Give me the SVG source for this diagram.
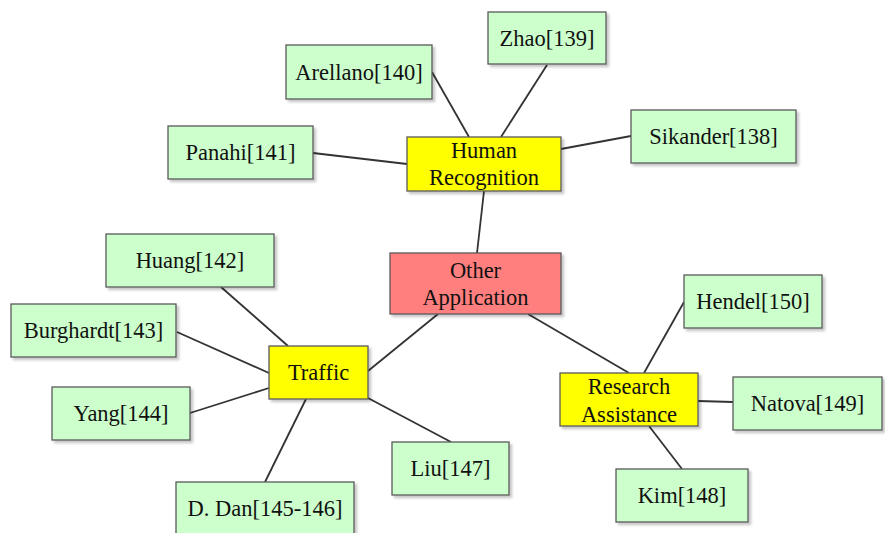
<svg xmlns="http://www.w3.org/2000/svg" width="885" height="533" viewBox="0 0 885 533">
  <style>
    .box { stroke: #5a5a5a; stroke-width: 1.3; filter: url(#shadow); }
    .leaf { fill: #ccffcc; }
    .topic { fill: #ffff00; }
    .root { fill: #ff7f7f; }
    .label { font-family: "Liberation Serif", "Times New Roman", serif; font-size: 22.5px; fill: #111; text-anchor: middle; }
    .edge { stroke: #333; stroke-width: 1.8; fill: none; }
  </style>
  <defs>
    <filter id="shadow" x="-10%" y="-10%" width="125%" height="130%">
      <feDropShadow dx="2.5" dy="2.5" stdDeviation="1.2" flood-color="#000" flood-opacity="0.22"/>
    </filter>
  </defs>
  <rect width="885" height="533" fill="#fff"/>

  <!-- connectors -->
  <g id="connectors">
    <line class="edge" x1="432" y1="72" x2="469" y2="137"/>
    <line class="edge" x1="547" y1="65" x2="501" y2="137"/>
    <line class="edge" x1="313" y1="153" x2="407" y2="164"/>
    <line class="edge" x1="561" y1="149" x2="631" y2="136"/>
    <line class="edge" x1="484" y1="191" x2="477" y2="253"/>
    <line class="edge" x1="438" y1="314" x2="368" y2="371"/>
    <line class="edge" x1="528" y1="314" x2="629" y2="373"/>
    <line class="edge" x1="221" y1="287" x2="288" y2="346"/>
    <line class="edge" x1="177" y1="332" x2="269" y2="373"/>
    <line class="edge" x1="190" y1="413" x2="269" y2="388"/>
    <line class="edge" x1="306" y1="399" x2="265" y2="482"/>
    <line class="edge" x1="368" y1="398" x2="451" y2="442"/>
    <line class="edge" x1="684" y1="302" x2="644" y2="373"/>
    <line class="edge" x1="698" y1="401" x2="733" y2="402"/>
    <line class="edge" x1="649" y1="426" x2="682" y2="469"/>
  </g>

  <!-- central node -->
  <g id="other-application">
    <rect class="box root" x="390" y="253" width="171" height="61"/>
    <text class="label" x="475.5" y="277.5">Other</text>
    <text class="label" x="475.5" y="305">Application</text>
  </g>

  <!-- topic nodes -->
  <g id="human-recognition">
    <rect class="box topic" x="407" y="137" width="154" height="54"/>
    <text class="label" x="484" y="158">Human</text>
    <text class="label" x="484" y="185">Recognition</text>
  </g>
  <g id="traffic">
    <rect class="box topic" x="269" y="346" width="99" height="53"/>
    <text class="label" x="318.5" y="380">Traffic</text>
  </g>
  <g id="research-assistance">
    <rect class="box topic" x="560" y="373" width="138" height="53"/>
    <text class="label" x="629" y="393.5">Research</text>
    <text class="label" x="629" y="421.5">Assistance</text>
  </g>

  <!-- reference nodes -->
  <g id="zhao">
    <rect class="box leaf" x="488" y="12" width="118" height="52"/>
    <text class="label" x="547" y="46">Zhao[139]</text>
  </g>
  <g id="arellano">
    <rect class="box leaf" x="286" y="45" width="146" height="54"/>
    <text class="label" x="359" y="80">Arellano[140]</text>
  </g>
  <g id="panahi">
    <rect class="box leaf" x="168" y="126" width="145" height="53"/>
    <text class="label" x="240.5" y="160">Panahi[141]</text>
  </g>
  <g id="sikander">
    <rect class="box leaf" x="631" y="110" width="165" height="53"/>
    <text class="label" x="713.5" y="144">Sikander[138]</text>
  </g>
  <g id="huang">
    <rect class="box leaf" x="106" y="234" width="168" height="53"/>
    <text class="label" x="190" y="268">Huang[142]</text>
  </g>
  <g id="burghardt">
    <rect class="box leaf" x="11" y="304" width="165" height="53"/>
    <text class="label" x="93.5" y="338">Burghardt[143]</text>
  </g>
  <g id="yang">
    <rect class="box leaf" x="52" y="387" width="138" height="53"/>
    <text class="label" x="121" y="421">Yang[144]</text>
  </g>
  <g id="d-dan">
    <rect class="box leaf" x="176" y="482" width="178" height="55"/>
    <text class="label" x="265" y="516">D. Dan[145-146]</text>
  </g>
  <g id="liu">
    <rect class="box leaf" x="392" y="442" width="117" height="53"/>
    <text class="label" x="450.5" y="476">Liu[147]</text>
  </g>
  <g id="kim">
    <rect class="box leaf" x="616" y="469" width="132" height="53"/>
    <text class="label" x="682" y="503">Kim[148]</text>
  </g>
  <g id="natova">
    <rect class="box leaf" x="733" y="377" width="149" height="53"/>
    <text class="label" x="807.5" y="411">Natova[149]</text>
  </g>
  <g id="hendel">
    <rect class="box leaf" x="684" y="275" width="138" height="53"/>
    <text class="label" x="753" y="309">Hendel[150]</text>
  </g>
</svg>
